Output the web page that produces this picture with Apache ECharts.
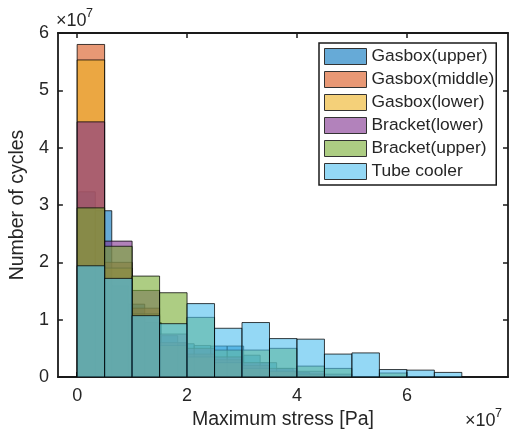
<!DOCTYPE html>
<html>
<head>
<meta charset="utf-8">
<script src="https://cdn.jsdelivr.net/npm/echarts@6/dist/echarts.min.js"></script>
<style>
  html, body { margin: 0; padding: 0; background: #fff; }
  #chart { width: 513px; height: 439px; }
</style>
</head>
<body>
<div id="chart"></div>
<script>
// Stress histograms per component, stress in units of 1e7 Pa, counts in units of 1e7 cycles.
const seriesNames = ['Gasbox(upper)', 'Gasbox(middle)', 'Gasbox(lower)', 'Bracket(lower)', 'Bracket(upper)', 'Tube cooler'];
const seriesColors = ['#0072BD', '#D95319', '#EDB120', '#7E2F8E', '#77AC30', '#4DBEEE'];

// Bin edges shared by most components
const binEdges = [0, 0.5, 1, 1.5, 2, 2.5, 3, 3.5, 4, 4.5, 5, 5.5, 6, 6.5, 7];
// Gasbox(upper) uses its own, narrower bins
const upperEdges = [0.03, 0.33, 0.63, 0.93, 1.23, 1.53, 1.83, 2.13, 2.43, 2.73, 3.03, 3.33, 3.63, 3.93, 4.23];

const gasboxUpper  = [3.23, 2.90, 1.59, 1.27, 0.95, 0.72, 0.58, 0.55, 0.54, 0.54, 0.38, 0.25, 0.15, 0.08];
const gasboxMiddle = [5.80, 2.00, 1.20, 0.60, 0.40, 0.30, 0.20, 0.10, 0.05, 0, 0, 0, 0, 0];
const gasboxLower  = [5.53, 1.90, 1.10, 0.55, 0.35, 0.25, 0.15, 0.10, 0.05, 0, 0, 0, 0, 0];
const bracketLower = [4.45, 2.37, 1.51, 0.75, 0.50, 0.35, 0.25, 0.15, 0.10, 0.05, 0, 0, 0, 0];
const bracketUpper = [2.95, 2.28, 1.76, 1.47, 1.04, 0.47, 0.47, 0.50, 0.19, 0.15, 0, 0.07, 0, 0];
const tubeCooler   = [1.94, 1.72, 1.07, 0.93, 1.28, 0.85, 0.95, 0.67, 0.66, 0.40, 0.42, 0.13, 0.12, 0.08];

const xTickValues = [0, 2, 4, 6];
const yTickValues = [0, 1, 2, 3, 4, 5, 6];

const FONT = '"Liberation Sans", Arial, Helvetica, sans-serif';
const TEXT_COLOR = '#262626';
const FACE_ALPHA = 0.6;
const TICK_FONT = 18;
const NAME_FONT = 19.5;
const LEGEND_FONT = 17.4;

function rgba(hex, a) {
  const n = parseInt(hex.slice(1), 16);
  return 'rgba(' + ((n >> 16) & 255) + ',' + ((n >> 8) & 255) + ',' + (n & 255) + ',' + a + ')';
}

function toBins(edges, counts) {
  return counts.map((c, i) => [edges[i], edges[i + 1], c]);
}

const seriesBins = [
  toBins(upperEdges, gasboxUpper),
  toBins(binEdges, gasboxMiddle),
  toBins(binEdges, gasboxLower),
  toBins(binEdges, bracketLower),
  toBins(binEdges, bracketUpper),
  toBins(binEdges, tubeCooler)
];

const series = seriesNames.map((name, k) => {
  const fill = rgba(seriesColors[k], FACE_ALPHA);
  return {
    type: 'custom',
    name: name,
    coordinateSystem: 'cartesian2d',
    xAxisIndex: 0,
    yAxisIndex: 0,
    clip: true,
    encode: { x: [0, 1], y: 2 },
    itemStyle: { color: fill, borderColor: '#333', borderWidth: 1 },
    data: seriesBins[k],
    renderItem: function (params, api) {
      const v = api.value(2);
      if (!v) return null;
      const p0 = api.coord([api.value(0), v]);
      const p1 = api.coord([api.value(1), 0]);
      return {
        type: 'rect',
        shape: { x: p0[0], y: p0[1], width: p1[0] - p0[0], height: p1[1] - p0[1] },
        style: { fill: fill, stroke: 'rgba(0,0,0,0.75)', lineWidth: 1 }
      };
    }
  };
});

const axisLineStyle = { color: '#1a1a1a', width: 1.8 };
const tickStyle = { color: '#1a1a1a', width: 1.5 };

const chart = echarts.init(document.getElementById('chart'), null, { renderer: 'canvas' });
chart.setOption({
  animation: false,
  backgroundColor: '#fff',
  textStyle: { fontFamily: FONT },
  grid: { left: 55, right: 5, top: 33, bottom: 62, containLabel: false },
  legend: {
    orient: 'vertical',
    left: 319,
    top: 43,
    padding: [5, 2, 5, 5],
    itemWidth: 42,
    itemHeight: 16,
    itemGap: 6,
    itemTextGap: 3,
    icon: 'rect',
    backgroundColor: '#fff',
    borderColor: '#1a1a1a',
    borderWidth: 1.5,
    borderRadius: 0,
    textStyle: { fontSize: LEGEND_FONT, color: TEXT_COLOR, fontFamily: FONT },
    data: seriesNames.map((name, k) => ({
      name: name,
      itemStyle: { color: rgba(seriesColors[k], FACE_ALPHA), borderColor: '#333', borderWidth: 1 }
    }))
  },
  xAxis: [
    {
      type: 'value', position: 'bottom', min: -0.35, max: 7.84,
      axisLine: { show: true, onZero: false, lineStyle: axisLineStyle },
      axisTick: { show: true, inside: true, length: 5, customValues: xTickValues, lineStyle: tickStyle },
      axisLabel: { customValues: xTickValues, fontSize: TICK_FONT, color: TEXT_COLOR, margin: 10, fontFamily: FONT },
      splitLine: { show: false },
      name: 'Maximum stress [Pa]', nameLocation: 'middle', nameGap: 23,
      nameTextStyle: { fontSize: NAME_FONT, color: TEXT_COLOR, fontFamily: FONT }
    },
    {
      type: 'value', position: 'top', min: -0.35, max: 7.84,
      axisLine: { show: true, onZero: false, lineStyle: axisLineStyle },
      axisTick: { show: true, inside: true, length: 5, customValues: xTickValues, lineStyle: tickStyle },
      axisLabel: { show: false },
      splitLine: { show: false }
    }
  ],
  yAxis: [
    {
      type: 'value', position: 'left', min: 0, max: 6, interval: 1,
      axisLine: { show: true, onZero: false, lineStyle: axisLineStyle },
      axisTick: { show: true, inside: true, length: 5, customValues: yTickValues, lineStyle: tickStyle },
      axisLabel: { customValues: yTickValues, fontSize: TICK_FONT, color: TEXT_COLOR, margin: 9, fontFamily: FONT },
      splitLine: { show: false },
      name: 'Number of cycles', nameLocation: 'middle', nameGap: 18, nameRotate: 90,
      nameTextStyle: { fontSize: NAME_FONT, color: TEXT_COLOR, fontFamily: FONT }
    },
    {
      type: 'value', position: 'right', min: 0, max: 6, interval: 1,
      axisLine: { show: true, onZero: false, lineStyle: axisLineStyle },
      axisTick: { show: true, inside: true, length: 5, customValues: yTickValues, lineStyle: tickStyle },
      axisLabel: { show: false },
      splitLine: { show: false }
    }
  ],
  graphic: [
    { type: 'text', x: 56, y: 21, style: { text: '×10', fill: TEXT_COLOR, font: '18px ' + FONT, textVerticalAlign: 'middle' } },
    { type: 'text', x: 86, y: 14, style: { text: '7', fill: TEXT_COLOR, font: '12.5px ' + FONT, textVerticalAlign: 'middle' } },
    { type: 'text', x: 465, y: 421, style: { text: '×10', fill: TEXT_COLOR, font: '18px ' + FONT, textVerticalAlign: 'middle' } },
    { type: 'text', x: 495, y: 414, style: { text: '7', fill: TEXT_COLOR, font: '12.5px ' + FONT, textVerticalAlign: 'middle' } }
  ],
  series: series
});
</script>
</body>
</html>
